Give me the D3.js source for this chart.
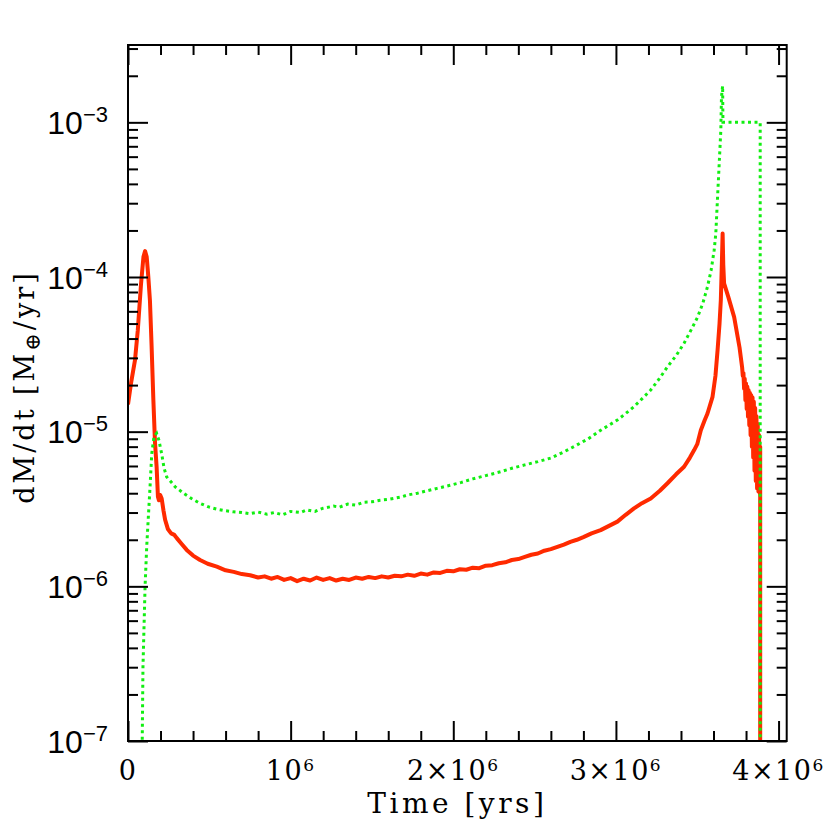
<!DOCTYPE html>
<html>
<head>
<meta charset="utf-8">
<script src="https://cdn.jsdelivr.net/npm/d3@7"></script>
<style>
  body { margin: 0; background: #fff; }
  svg { display: block; }
</style>
</head>
<body>
<div id="chart"></div>
<script>
// ---- data ----
// red solid curve: time [yrs] and dM/dt [M_earth/yr]
const redTime = [
  0, 20e3, 43e3, 60e3, 80e3, 95e3, 105e3, 115e3, 125e3, 135e3, 145e3, 156e3, 166e3, 176e3,
  184e3, 190e3, 198e3, 207e3, 218e3, 228e3, 245e3, 265e3, 285e3, 300e3, 330e3, 361e3,
  400e3, 443e3, 490e3, 546e3, 600e3, 650e3, 700e3, 751e3,
  800e3, 840e3, 880e3, 920e3, 960e3, 1.00e6, 1.04e6, 1.08e6, 1.12e6, 1.16e6, 1.20e6,
  1.24e6, 1.28e6, 1.32e6, 1.36e6, 1.40e6, 1.44e6, 1.48e6, 1.52e6, 1.56e6, 1.60e6,
  1.64e6, 1.68e6, 1.72e6, 1.76e6, 1.80e6, 1.84e6, 1.88e6, 1.92e6, 1.96e6, 2.00e6,
  2.04e6, 2.08e6, 2.12e6, 2.16e6, 2.20e6, 2.24e6, 2.28e6, 2.32e6, 2.36e6, 2.40e6,
  2.44e6, 2.48e6, 2.52e6, 2.56e6, 2.60e6, 2.64e6, 2.68e6, 2.72e6, 2.76e6, 2.80e6,
  2.85e6, 2.906e6, 3.009e6, 3.06e6, 3.111e6, 3.16e6, 3.214e6, 3.27e6, 3.317e6, 3.37e6,
  3.419e6, 3.455e6, 3.481e6, 3.50e6, 3.522e6, 3.545e6, 3.563e6, 3.594e6, 3.612e6,
  3.625e6, 3.637e6, 3.645e6, 3.652e6, 3.656e6, 3.660e6, 3.665e6, 3.69e6, 3.727e6,
  3.76e6, 3.776e6, 3.780e6, 3.784e6, 3.788e6, 3.792e6, 3.796e6, 3.800e6, 3.804e6,
  3.808e6, 3.812e6, 3.816e6, 3.820e6, 3.824e6, 3.828e6, 3.832e6, 3.836e6, 3.840e6,
  3.844e6, 3.848e6, 3.852e6, 3.856e6, 3.860e6, 3.864e6, 3.868e6, 3.872e6, 3.876e6,
  3.880e6, 3.884e6, 3.887e6, 3.887e6, 3.887e6
];
const redRate = [
  1.5e-5, 2.1e-5, 2.9e-5, 4.5e-5, 9.0e-5, 1.35e-4, 1.47e-4, 1.35e-4, 1.0e-4, 7.0e-5, 3.6e-5, 1.6e-5, 8.5e-6, 5.9e-6,
  3.8e-6, 3.6e-6, 3.9e-6, 3.7e-6, 3.1e-6, 2.7e-6, 2.35e-6, 2.2e-6, 2.15e-6, 2.05e-6, 1.88e-6, 1.72e-6,
  1.58e-6, 1.48e-6, 1.40e-6, 1.34e-6, 1.27e-6, 1.24e-6, 1.20e-6, 1.18e-6,
  1.14e-6, 1.16e-6, 1.12e-6, 1.15e-6, 1.10e-6, 1.13e-6, 1.08e-6, 1.12e-6, 1.09e-6, 1.14e-6, 1.10e-6,
  1.13e-6, 1.09e-6, 1.12e-6, 1.10e-6, 1.14e-6, 1.12e-6, 1.15e-6, 1.13e-6, 1.16e-6, 1.14e-6,
  1.17e-6, 1.16e-6, 1.19e-6, 1.17e-6, 1.21e-6, 1.19e-6, 1.23e-6, 1.22e-6, 1.26e-6, 1.25e-6,
  1.29e-6, 1.28e-6, 1.32e-6, 1.31e-6, 1.36e-6, 1.37e-6, 1.41e-6, 1.43e-6, 1.48e-6, 1.50e-6,
  1.55e-6, 1.60e-6, 1.63e-6, 1.70e-6, 1.74e-6, 1.80e-6, 1.86e-6, 1.94e-6, 2.00e-6, 2.08e-6,
  2.20e-6, 2.31e-6, 2.62e-6, 2.90e-6, 3.19e-6, 3.45e-6, 3.70e-6, 4.15e-6, 4.64e-6, 5.30e-6,
  5.93e-6, 6.8e-6, 7.6e-6, 8.3e-6, 1.02e-5, 1.18e-5, 1.31e-5, 1.68e-5, 2.3e-5,
  3.37e-5, 5.0e-5, 7.1e-5, 1.3e-4, 1.91e-4, 1.2e-4, 9.1e-5, 7.5e-5, 5.5e-5,
  3.5e-5, 2.6e-5, 2.3e-5, 2.4e-5, 1.9e-5, 2.2e-5, 1.6e-5, 2.05e-5, 1.4e-5,
  1.95e-5, 1.25e-5, 1.85e-5, 1.1e-5, 1.78e-5, 9.5e-6, 1.72e-5, 8.0e-6, 1.66e-5,
  6.8e-6, 1.56e-5, 5.6e-6, 1.42e-5, 4.8e-6, 1.26e-5, 4.3e-6, 1.12e-5, 4.1e-6,
  9.5e-6, 4.0e-6, 8.0e-6, 4.0e-6, 1e-8
];

// green dotted curve
const greenTime = [
  78e3, 92e3, 105e3, 115e3, 125e3, 136e3, 146e3, 160e3, 176e3, 190e3, 207e3, 222e3, 238e3,
  260e3, 290e3, 341e3, 390e3, 443e3, 500e3, 550e3, 600e3, 648e3,
  700e3, 750e3, 800e3, 854e3, 900e3, 950e3, 1.0e6, 1.06e6, 1.1e6, 1.15e6, 1.2e6, 1.264e6,
  1.3e6, 1.35e6, 1.4e6, 1.45e6, 1.5e6, 1.55e6, 1.6e6, 1.675e6, 1.72e6, 1.78e6, 1.84e6,
  1.9e6, 1.98e6, 2.05e6, 2.12e6, 2.2e6, 2.29e6, 2.36e6, 2.44e6, 2.52e6, 2.6e6, 2.68e6,
  2.76e6, 2.83e6, 2.906e6, 3.009e6, 3.06e6, 3.111e6, 3.16e6, 3.214e6, 3.267e6, 3.317e6,
  3.37e6, 3.419e6, 3.46e6, 3.502e6, 3.535e6, 3.563e6, 3.585e6, 3.604e6, 3.614e6, 3.625e6,
  3.635e6, 3.645e6, 3.649e6, 3.656e6, 3.658e6, 3.887e6, 3.887e6
];
const greenRate = [
  1e-8, 3e-7, 1.0e-6, 1.8e-6, 2.8e-6, 4.5e-6, 7.2e-6, 9.3e-6, 9.75e-6, 8.8e-6, 7.2e-6, 5.8e-6, 5.1e-6,
  4.8e-6, 4.4e-6, 4.0e-6, 3.7e-6, 3.44e-6, 3.25e-6, 3.15e-6, 3.08e-6, 3.03e-6,
  3.0e-6, 2.95e-6, 3.02e-6, 2.93e-6, 3.0e-6, 2.9e-6, 3.05e-6, 3.0e-6, 3.12e-6, 3.05e-6, 3.2e-6, 3.3e-6,
  3.25e-6, 3.4e-6, 3.35e-6, 3.5e-6, 3.52e-6, 3.6e-6, 3.65e-6, 3.77e-6, 3.9e-6, 4.0e-6, 4.15e-6,
  4.3e-6, 4.5e-6, 4.7e-6, 4.95e-6, 5.2e-6, 5.5e-6, 5.8e-6, 6.1e-6, 6.4e-6, 6.75e-6, 7.4e-6,
  8.2e-6, 9.0e-6, 1.02e-5, 1.19e-5, 1.31e-5, 1.45e-5, 1.63e-5, 1.86e-5, 2.2e-5, 2.63e-5,
  3.1e-5, 3.73e-5, 4.5e-5, 5.5e-5, 6.8e-5, 8.65e-5, 1.1e-4, 1.49e-4, 1.9e-4, 3.3e-4,
  5.4e-4, 8.9e-4, 1.46e-3, 1.72e-3, 1.0e-3, 1.0e-3, 1e-8
];

// axis ticks
const xMajorTicks = [0, 1e6, 2e6, 3e6, 4e6];
const xTickLabels = [["0", ""], ["10", "6"], ["2×10", "6"], ["3×10", "6"], ["4×10", "6"]];
const xMinorTicks = [2e5, 4e5, 6e5, 8e5, 12e5, 14e5, 16e5, 18e5, 22e5, 24e5, 26e5, 28e5, 32e5, 34e5, 36e5, 38e5];
const yMajorExps = [-7, -6, -5, -4, -3];
const yMinorMults = [2, 3, 4, 5, 6, 7, 8, 9];

// ---- layout ----
const W = 830, H = 830;
const plot = { left: 128, right: 786.7, top: 45, bottom: 741 };

const svg = d3.select("#chart").append("svg")
    .attr("width", W)
    .attr("height", H);

const x = d3.scaleLinear().domain([0, 4.05e6]).range([plot.left, plot.right]);
const y = d3.scaleLog().domain([1e-7, Math.pow(10, -2.5)]).range([plot.bottom, plot.top]);

svg.append("clipPath").attr("id", "clip")
    .append("rect")
    .attr("x", plot.left).attr("y", plot.top)
    .attr("width", plot.right - plot.left).attr("height", plot.bottom - plot.top);

// curves
const line = d3.line()
    .x(d => x(d[0]))
    .y(d => y(d[1]));

const redData = redTime.map((t, i) => [t, redRate[i]]);
const greenData = greenTime.map((t, i) => [t, greenRate[i]]);

svg.append("path")
    .datum(redData)
    .attr("clip-path", "url(#clip)")
    .attr("fill", "none")
    .attr("stroke", "#ff2a00")
    .attr("stroke-width", 4)
    .attr("stroke-linejoin", "round")
    .attr("d", line);

svg.append("path")
    .datum(greenData)
    .attr("clip-path", "url(#clip)")
    .attr("fill", "none")
    .attr("stroke", "#11ee11")
    .attr("stroke-width", 3)
    .attr("stroke-dasharray", "3,3.5")
    .attr("d", line);

// ticks, all pointing inward on four sides
const yMinorTicks = [];
yMajorExps.forEach(e => yMinorMults.forEach(m => {
    const v = m * Math.pow(10, e);
    if (v <= y.domain()[1]) yMinorTicks.push(v);
}));
const yMajorTicks = yMajorExps.map(e => Math.pow(10, e));

function addAxis(axisFn, scale, values, size, transform) {
    const g = svg.append("g")
        .attr("transform", transform)
        .call(axisFn(scale).tickValues(values).tickSize(-size).tickFormat(""));
    g.select(".domain").remove();
    g.selectAll(".tick line").attr("stroke", "#000").attr("stroke-width", 2);
}

addAxis(d3.axisBottom, x, xMajorTicks, 20, `translate(0,${plot.bottom})`);
addAxis(d3.axisBottom, x, xMinorTicks, 10, `translate(0,${plot.bottom})`);
addAxis(d3.axisTop, x, xMajorTicks, 20, `translate(0,${plot.top})`);
addAxis(d3.axisTop, x, xMinorTicks, 10, `translate(0,${plot.top})`);
addAxis(d3.axisLeft, y, yMajorTicks, 20, `translate(${plot.left},0)`);
addAxis(d3.axisLeft, y, yMinorTicks, 10, `translate(${plot.left},0)`);
addAxis(d3.axisRight, y, yMajorTicks, 20, `translate(${plot.right},0)`);
addAxis(d3.axisRight, y, yMinorTicks, 10, `translate(${plot.right},0)`);

// frame
svg.append("rect")
    .attr("x", plot.left).attr("y", plot.top)
    .attr("width", plot.right - plot.left).attr("height", plot.bottom - plot.top)
    .attr("fill", "none")
    .attr("stroke", "#000")
    .attr("stroke-width", 2);

// y tick labels (sans)
yMajorExps.forEach(e => {
    const t = svg.append("text")
        .attr("x", 108)
        .attr("y", y(Math.pow(10, e)) + 11.5)
        .attr("text-anchor", "end")
        .attr("font-family", "'Liberation Sans', Arial, sans-serif")
        .attr("font-size", 32)
        .attr("fill", "#000");
    t.append("tspan").text("10");
    t.append("tspan")
        .attr("dy", -12)
        .attr("font-size", 22)
        .text("−" + Math.abs(e));
});

// x tick labels (serif)
xMajorTicks.forEach((v, i) => {
    const t = svg.append("text")
        .attr("x", x(v))
        .attr("y", 780)
        .attr("text-anchor", "middle")
        .attr("font-family", "'DejaVu Serif', serif")
        .attr("font-size", 27)
        .attr("letter-spacing", 1.5)
        .attr("fill", "#000");
    t.append("tspan").text(xTickLabels[i][0]);
    if (xTickLabels[i][1]) {
        t.append("tspan")
            .attr("dy", -9)
            .attr("font-size", 17)
            .text(xTickLabels[i][1]);
    }
});

// axis titles
svg.append("text")
    .attr("x", (plot.left + plot.right) / 2)
    .attr("y", 813)
    .attr("text-anchor", "middle")
    .attr("font-family", "'DejaVu Serif', serif")
    .attr("font-size", 28)
    .attr("letter-spacing", 3.5)
    .attr("fill", "#000")
    .text("Time [yrs]");

const yt = svg.append("text")
    .attr("transform", "translate(34," + ((plot.top + plot.bottom) / 2 - 6) + ") rotate(-90)")
    .attr("text-anchor", "middle")
    .attr("font-family", "'DejaVu Serif', serif")
    .attr("font-size", 27)
    .attr("letter-spacing", 3)
    .attr("fill", "#000");
yt.append("tspan").text("dM/dt  [M");
yt.append("tspan").attr("dy", 6).attr("font-size", 21).text("⊕");
yt.append("tspan").attr("dy", -6).text("/yr]");
</script>
</body>
</html>
